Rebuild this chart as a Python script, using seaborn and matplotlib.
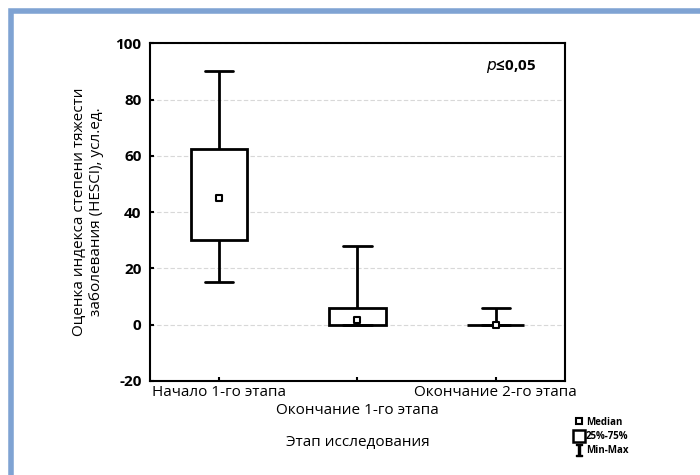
import pandas as pd
import seaborn as sb
import matplotlib.pyplot as plt
from matplotlib.lines import Line2D
from matplotlib.patches import Rectangle

# five-number summary per stage
stages = ['Начало 1-го этапа', 'Окончание 1-го этапа', 'Окончание 2-го этапа']
mins = [15, 0, 0]
q1s = [30, 0, 0]
medians = [45, 1.5, 0]
q3s = [62.5, 6, 0]
maxs = [90, 28, 6]
y_ticks = [-20, 0, 20, 40, 60, 80, 100]

# five points per stage give exactly these quartiles with linear interpolation
rows = []
for i, stage in enumerate(stages):
    for v in (mins[i], q1s[i], medians[i], q3s[i], maxs[i]):
        rows.append({'stage': stage, 'value': v})
data = pd.DataFrame(rows)
med = pd.DataFrame({'stage': stages, 'value': medians})

sb.set_style('white')
plt.rcParams['font.family'] = ['Open Sans', 'DejaVu Sans']
plt.rcParams['axes.unicode_minus'] = False
plt.rcParams['text.color'] = 'black'
plt.rcParams['axes.labelcolor'] = 'black'
plt.rcParams['xtick.color'] = 'black'
plt.rcParams['ytick.color'] = 'black'

fig = plt.figure(figsize=(7, 4.75), dpi=100)
ax = fig.add_axes([0.214, 0.198, 0.593, 0.711])

ax.set_yticks(y_ticks)
ax.yaxis.grid(True, color='#d8d8d8', linestyle=(0, (4, 2)), linewidth=0.8)
ax.set_axisbelow(True)

sb.boxplot(data=data, x='stage', y='value', order=stages, whis=(0, 100), width=0.41,
           color='white', linecolor='black', linewidth=2, showfliers=False,
           medianprops={'visible': False}, ax=ax)
sb.stripplot(data=med, x='stage', y='value', order=stages, jitter=False, marker='s',
             size=5, color='white', edgecolor='black', linewidth=1.5, ax=ax, zorder=5)

ax.set_xlim(-0.5, 2.5)
ax.set_ylim(-20, 100)
ax.set_xticks(range(len(stages)))
ax.set_xticklabels(stages, fontsize=11)
ax.tick_params(axis='y', left=True, labelsize=11, direction='in', length=3, width=1.5, pad=6)
ax.tick_params(axis='x', bottom=True, direction='in', length=3, width=1.5, pad=3)
for lab in ax.get_yticklabels():
    lab.set_fontweight('bold')
# middle stage label sits one row lower, as in the original
ax.xaxis.get_major_ticks()[1].set_pad(16)

for s in ax.spines.values():
    s.set_visible(True)
    s.set_color('black')
    s.set_linewidth(1.5)

ax.set_xlabel('Этап исследования', fontsize=11, labelpad=12)
ax.set_ylabel('Оценка индекса степени тяжести\nзаболевания (HESCI), усл.ед.', fontsize=11, labelpad=8)

ax.text(0.93, 0.93, r'$\it{p}$≤0,05', transform=ax.transAxes, ha='right', va='center',
        fontsize=11, fontweight='bold')

handles = [
    Line2D([], [], linestyle='none', marker='s', markersize=4, markerfacecolor='white',
           markeredgecolor='black', markeredgewidth=1.5),
    Line2D([], [], linestyle='none', marker='s', markersize=9, markerfacecolor='white',
           markeredgecolor='black', markeredgewidth=1.8),
    Line2D([], [], linestyle='none', marker='$\\mathtt{I}$', markersize=9, color='black'),
]
fig.legend(handles, ['Median', '25%-75%', 'Min-Max'], loc='upper left',
           bbox_to_anchor=(0.815, 0.133), frameon=False,
           handlelength=0.8, handletextpad=0.3, labelspacing=0.35, borderpad=0,
           prop={'weight': 'bold', 'size': 7})

fig.patches.append(Rectangle((0.016, -0.1), 1.2, 1.077, transform=fig.transFigure,
                             fill=False, edgecolor='#7fa3d3', linewidth=4, zorder=0))

fig.savefig('out.png', dpi=100)
